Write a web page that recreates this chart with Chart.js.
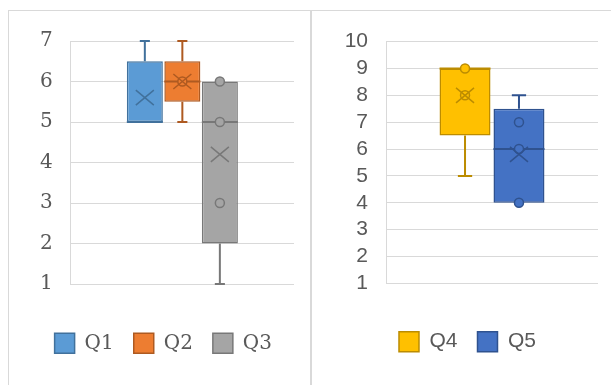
<!DOCTYPE html>
<html>
<head>
<meta charset="utf-8">
<script src="https://cdn.jsdelivr.net/npm/chart.js@4/dist/chart.umd.min.js"></script>
<style>
    html, body { margin: 0; padding: 0; background: #fff; overflow: hidden; }
    body { width: 611px; height: 385px; position: relative; }
    .panel { position: absolute; top: 10px; height: 400px; box-sizing: border-box; border: 1px solid #d9d9d9; }
    #leftPanel { left: 8px; width: 303px; }
    #rightPanel { left: 311px; width: 320px; }
    canvas { position: absolute; left: 0; top: 0; }
</style>
</head>
<body>
<div class="panel" id="leftPanel"><canvas id="leftChart" width="301" height="374"></canvas></div>
<div class="panel" id="rightPanel"><canvas id="rightChart" width="299" height="374"></canvas></div>
<script>
// Left chart data
const leftSeries = ['Q1', 'Q2', 'Q3'];
const leftMin = [5, 5, 1];
const leftQ1 = [5, 5.5, 2];
const leftMedian = [5, 6, 5];
const leftQ3 = [6.5, 6.5, 6];
const leftMax = [7, 7, 6];
const leftMean = [5.6, 6, 4.2];
const leftPoints = [[], [6], [3, 5, 6]];
const leftTicks = [1, 2, 3, 4, 5, 6, 7];

// Right chart data
const rightSeries = ['Q4', 'Q5'];
const rightMin = [5, 4];
const rightQ1 = [6.5, 4];
const rightMedian = [9, 6];
const rightQ3 = [9, 7.5];
const rightMax = [9, 8];
const rightMean = [8, 5.8];
const rightPoints = [[8, 9], [4, 6, 7]];
const rightTicks = [1, 2, 3, 4, 5, 6, 7, 8, 9, 10];

const FILLS = ['#5b9bd5', '#ed7d31', '#a5a5a5', '#ffc000', '#4472c4'];
const LINES = ['#41719c', '#ae5a21', '#787878', '#bc8c00', '#2f528f'];

// Whiskers, median, mean and inner points on top of the floating bars
const boxExtras = {
    id: 'boxExtras',
    afterDatasetsDraw(chart) {
        const ctx = chart.ctx;
        const yScale = chart.scales.y;
        chart.data.datasets.forEach((ds, i) => {
            const bar = chart.getDatasetMeta(i).data[0];
            const s = ds.stats;
            const x = bar.x, w = bar.width;
            const py = v => yScale.getPixelForValue(v);
            const cap = w * 0.14;
            ctx.save();
            ctx.strokeStyle = ds.borderColor;
            ctx.lineWidth = 2;
            ctx.beginPath();
            if (s.max > s.q3) {
                ctx.moveTo(x, py(s.q3)); ctx.lineTo(x, py(s.max));
                ctx.moveTo(x - cap, py(s.max)); ctx.lineTo(x + cap, py(s.max));
            }
            if (s.min < s.q1) {
                ctx.moveTo(x, py(s.q1)); ctx.lineTo(x, py(s.min));
                ctx.moveTo(x - cap, py(s.min)); ctx.lineTo(x + cap, py(s.min));
            }
            // median
            ctx.moveTo(x - w / 2, py(s.median)); ctx.lineTo(x + w / 2, py(s.median));
            ctx.stroke();

            // inner points
            ctx.lineWidth = 1.5;
            s.points.forEach(p => {
                ctx.beginPath();
                ctx.arc(x, py(p), 4.5, 0, Math.PI * 2);
                ctx.fillStyle = ds.backgroundColor;
                ctx.fill();
                ctx.stroke();
            });

            // mean marker
            const my = py(s.mean);
            ctx.beginPath();
            ctx.moveTo(x - 9, my - 7.5); ctx.lineTo(x + 9, my + 7.5);
            ctx.moveTo(x - 9, my + 7.5); ctx.lineTo(x + 9, my - 7.5);
            ctx.stroke();
            ctx.restore();
        });
    }
};

function buildDatasets(series, mins, q1s, medians, q3s, maxs, means, points, colorOffset) {
    return series.map((name, i) => ({
        label: name,
        data: [[q1s[i], q3s[i]]],
        backgroundColor: FILLS[colorOffset + i],
        borderColor: LINES[colorOffset + i],
        borderWidth: 1.5,
        borderSkipped: false,
        stats: {
            min: mins[i], q1: q1s[i], median: medians[i],
            q3: q3s[i], max: maxs[i], mean: means[i], points: points[i]
        }
    }));
}

function makeChart(id, datasets, ticks, cfg) {
    return new Chart(document.getElementById(id), {
        type: 'bar',
        data: { labels: [''], datasets: datasets },
        options: {
            responsive: false,
            animation: false,
            categoryPercentage: cfg.catPct,
            barPercentage: cfg.barPct,
            layout: { padding: cfg.padding },
            plugins: {
                tooltip: { enabled: false },
                legend: {
                    position: 'bottom',
                    labels: {
                        boxWidth: 20,
                        boxHeight: 20,
                        padding: 20,
                        color: '#595959',
                        font: { family: cfg.font, size: cfg.legendSize }
                    }
                }
            },
            scales: {
                x: {
                    ticks: { display: false },
                    grid: { display: false },
                    border: { display: false },
                    afterFit: scale => { scale.height = cfg.xHeight; }
                },
                y: {
                    min: ticks[0],
                    max: ticks[ticks.length - 1],
                    afterBuildTicks: scale => { scale.ticks = ticks.map(v => ({ value: v })); },
                    ticks: {
                        autoSkip: false,
                        padding: cfg.tickPad,
                        color: '#595959',
                        font: { family: cfg.font, size: cfg.tickSize }
                    },
                    grid: { color: '#d9d9d9', lineWidth: 1, drawTicks: false },
                    border: { display: true, color: '#d9d9d9', width: 1 },
                    afterFit: scale => { scale.width = cfg.yWidth; }
                }
            }
        },
        plugins: [boxExtras]
    });
}

makeChart('leftChart',
    buildDatasets(leftSeries, leftMin, leftQ1, leftMedian, leftQ3, leftMax, leftMean, leftPoints, 0),
    leftTicks,
    {
        font: 'DejaVu Serif', tickSize: 20, legendSize: 20,
        padding: { left: 23.6, right: 16, top: 28, bottom: 21.7 },
        yWidth: 38.1, xHeight: 29.3, tickPad: 18,
        catPct: 0.504, barPct: 0.96
    });

makeChart('rightChart',
    buildDatasets(rightSeries, rightMin, rightQ1, rightMedian, rightQ3, rightMax, rightMean, rightPoints, 3),
    rightTicks,
    {
        font: 'Liberation Sans', tickSize: 21, legendSize: 21,
        padding: { left: 25, right: 13, top: 28, bottom: 22.8 },
        yWidth: 49, xHeight: 27.9, tickPad: 18,
        catPct: 0.509, barPct: 0.945
    });
</script>
</body>
</html>
